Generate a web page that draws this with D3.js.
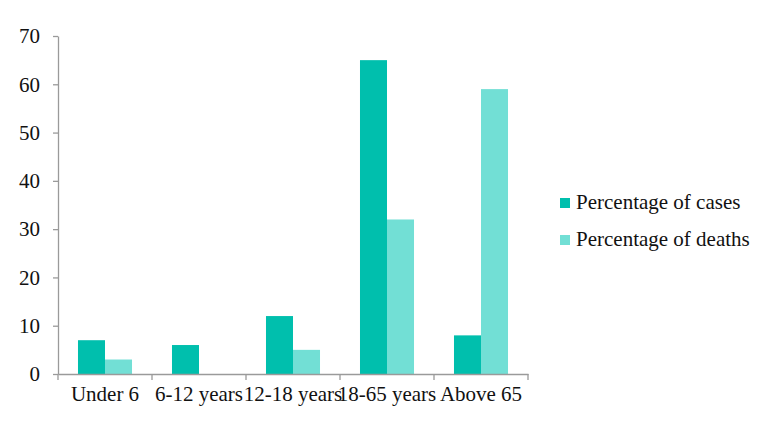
<!DOCTYPE html>
<html>
<head>
<meta charset="utf-8">
<script src="https://cdn.jsdelivr.net/npm/d3@7"></script>
<style>
  body { margin: 0; background: #fff; }
  text { font-family: "Liberation Serif", serif; fill: #111; }
</style>
</head>
<body>
<svg id="chart" width="771" height="432"></svg>
<script>
// Chart data
const categories = ["Under 6", "6-12 years", "12-18 years", "18-65 years", "Above 65"];
const seriesNames = ["Percentage of cases", "Percentage of deaths"];
const casesValues = [7, 6, 12, 65, 8];
const deathsValues = [3, 0, 5, 32, 59];
const yTicks = [0, 10, 20, 30, 40, 50, 60, 70];

const COLORS = ["#00bfad", "#72dfd5"];
const AXIS_COLOR = "#9a9a9a";
const FONT_SIZE = "21px";

const margin = { left: 58, top: 36, right: 243, bottom: 58 };
const width = 771, height = 432;

const svg = d3.select("#chart");

const x = d3.scaleBand()
    .domain(categories)
    .range([margin.left, width - margin.right])
    .paddingInner(0)
    .paddingOuter(0);

const y = d3.scaleLinear()
    .domain([0, 70])
    .range([height - margin.bottom, margin.top]);

const inner = d3.scaleBand()
    .domain(seriesNames)
    .range([0, x.bandwidth()])
    .paddingOuter(0.74)
    .paddingInner(0);

const rows = categories.map((c, i) => ({ cat: c, vals: [casesValues[i], deathsValues[i]] }));

// Bars
svg.append("g").selectAll("g")
    .data(rows)
    .enter().append("g")
    .attr("transform", d => `translate(${x(d.cat)},0)`)
    .selectAll("rect")
    .data(d => d.vals.map((v, j) => ({ name: seriesNames[j], v: v, j: j })))
    .enter().append("rect")
    .attr("x", d => inner(d.name))
    .attr("width", inner.bandwidth())
    .attr("y", d => y(d.v))
    .attr("height", d => y(0) - y(d.v))
    .attr("fill", d => COLORS[d.j]);

// Y axis
const yAxis = svg.append("g")
    .attr("transform", `translate(${margin.left},0)`)
    .call(d3.axisLeft(y).tickValues(yTicks).tickSize(5).tickPadding(13).tickSizeOuter(0));
yAxis.select(".domain").attr("stroke", AXIS_COLOR).attr("stroke-width", 1.3);
yAxis.selectAll(".tick line").attr("stroke", AXIS_COLOR).attr("stroke-width", 1.3);
yAxis.selectAll("text").style("font-size", FONT_SIZE).style("font-family", "Liberation Serif, serif").attr("fill", "#111");

// X axis with ticks at band boundaries
const xAxis = svg.append("g")
    .attr("transform", `translate(0,${y(0)})`)
    .call(d3.axisBottom(x).tickSize(0).tickPadding(12));
xAxis.select(".domain").attr("stroke", AXIS_COLOR).attr("stroke-width", 1.3);
xAxis.selectAll("text").style("font-size", FONT_SIZE).style("font-family", "Liberation Serif, serif").attr("fill", "#111");

const boundaries = categories.map(c => x(c)).concat([x.range()[1]]);
xAxis.selectAll(".boundary")
    .data(boundaries)
    .enter().append("line")
    .attr("x1", d => d).attr("x2", d => d)
    .attr("y1", 0).attr("y2", 6)
    .attr("stroke", AXIS_COLOR).attr("stroke-width", 1.3);

// Legend
const legend = svg.append("g").attr("transform", "translate(560,202)");
const item = legend.selectAll("g")
    .data(seriesNames)
    .enter().append("g")
    .attr("transform", (d, i) => `translate(0,${i * 37})`);
item.append("rect")
    .attr("x", 0).attr("y", -4)
    .attr("width", 10).attr("height", 10)
    .attr("fill", (d, i) => COLORS[i]);
item.append("text")
    .attr("x", 16).attr("y", 0)
    .attr("dy", "0.35em")
    .style("font-size", FONT_SIZE)
    .text(d => d);
</script>
</body>
</html>
